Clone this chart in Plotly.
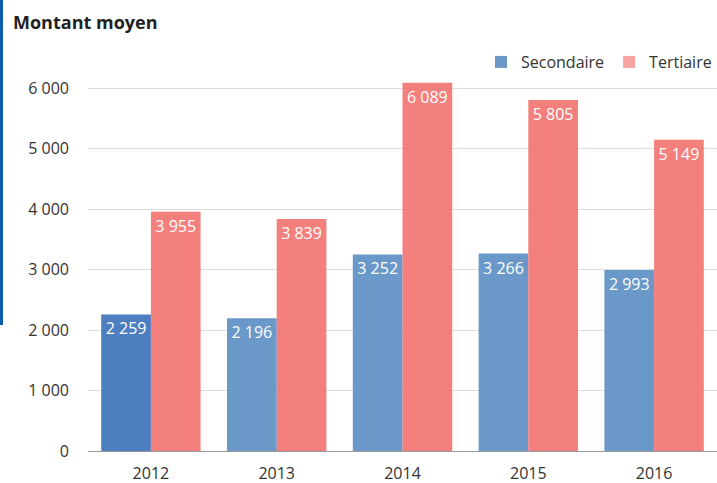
import plotly.graph_objects as go

years = ["2012", "2013", "2014", "2015", "2016"]
secondaire = [2259, 2196, 3252, 3266, 2993]
tertiaire = [3955, 3839, 6089, 5805, 5149]
sec_labels = ["2 259", "2 196", "3 252", "3 266", "2 993"]
ter_labels = ["3 955", "3 839", "6 089", "5 805", "5 149"]

FONT = "Open Sans, Noto Sans, sans-serif"

fig = go.Figure()
fig.add_trace(go.Bar(
    name="Secondaire", x=years, y=secondaire, text=sec_labels,
    textposition="inside", insidetextanchor="end", textangle=0,
    textfont=dict(color="white", size=16, family=FONT),
    marker=dict(color=["#4d7ebf", "#6a98c8", "#6a98c8", "#6a98c8", "#6a98c8"], line=dict(width=0)),
    hoverinfo="skip", showlegend=False,
))
fig.add_trace(go.Bar(
    name="Tertiaire", x=years, y=tertiaire, text=ter_labels,
    textposition="inside", insidetextanchor="end", textangle=0,
    textfont=dict(color="white", size=16, family=FONT),
    marker=dict(color="rgba(242,110,108,0.88)", line=dict(width=0)),
    hoverinfo="skip", showlegend=False,
))
# legend entries (lighter swatches as in the reference)
fig.add_trace(go.Scatter(name="Secondaire", x=[None], y=[None], mode="markers",
                         marker=dict(symbol="square", size=12, color="#6a98c8"),
                         showlegend=True, hoverinfo="skip"))
fig.add_trace(go.Scatter(name="Tertiaire", x=[None], y=[None], mode="markers",
                         marker=dict(symbol="square", size=12, color="#f7a3a0"),
                         showlegend=True, hoverinfo="skip"))

fig.update_layout(
    width=717, height=483,
    margin=dict(l=88, r=0, t=58, b=32, autoexpand=False),
    paper_bgcolor="white", plot_bgcolor="white",
    barmode="group", bargap=0.21, bargroupgap=0,
    separators=", ",
    font=dict(family=FONT, color="#333333", size=16),
    showlegend=True,
    legend=dict(orientation="h", x=1.0, xanchor="right", y=(451-62)/393, yanchor="middle",
                font=dict(size=16, color="#333333"), itemwidth=30, tracegroupgap=0,
                bgcolor="rgba(0,0,0,0)"),
    xaxis=dict(showgrid=False, showline=True, linecolor="#999999", linewidth=1,
               ticks="", tickfont=dict(size=16, color="#333333"), automargin=False,
               ticklabelstandoff=8),
    yaxis=dict(range=[0, 6500], tickvals=[0, 1000, 2000, 3000, 4000, 5000, 6000],
               ticktext=["0", "1 000", "2 000", "3 000", "4 000", "5 000", "6 000"],
               showgrid=True, gridcolor="#dddddd", gridwidth=1, zeroline=False,
               showline=False, tickfont=dict(size=16, color="#333333"),
               ticklabelstandoff=18, automargin=False),
    annotations=[dict(text="<b>Montant moyen</b>", xref="paper", yref="paper",
                      x=-77/629, y=(483-32-22)/393, xanchor="left", yanchor="middle",
                      showarrow=False, font=dict(size=18, color="#222222", family=FONT))],
    shapes=[dict(type="rect", xref="paper", yref="paper",
                 x0=-88/629, x1=-85/629, y0=(483-32-325)/393, y1=(483-32)/393,
                 fillcolor="#0b5cab", line=dict(width=0), layer="above")],
)

fig.write_html("out.html", config={"displayModeBar": False},
               post_script="document.body.style.margin='0';")
